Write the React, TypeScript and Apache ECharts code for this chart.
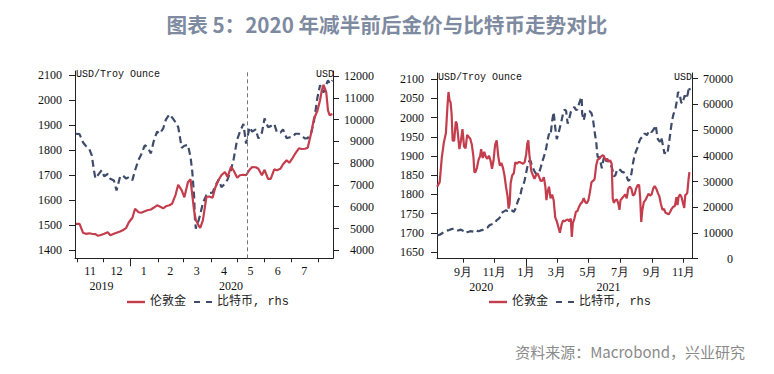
import React, { useEffect, useRef } from "react";
import * as echarts from "echarts";

// ---------- DATA ----------
// Left panel: day offsets from 2019-11-01
const leftBaseDate = "2019-11-01";
const goldDays1 = [-1,3,7,10,14,17,21,24,28,31,35,38,42,45,49,52,56,59,63,66,70,73,77,80,84,87,91,94,98,101,105,108,112,115,119,122,126,129,131,133,135,136,138,140,143,147,150,154,157,161,164,168,171,175,178,182,185,189,192,196,199,203,206,210,213,217,220,224,227,231,234,238,241,245,248,252,255,259,262,266,269,273,276,278,280,283,285,287,290];
const goldValues1 = [1506,1506,1470,1466,1468,1466,1465,1458,1462,1466,1472,1460,1466,1470,1475,1480,1490,1512,1530,1566,1552,1550,1556,1560,1563,1570,1580,1575,1568,1576,1580,1586,1622,1662,1640,1612,1672,1684,1620,1560,1520,1515,1500,1490,1520,1613,1615,1610,1650,1682,1700,1713,1693,1735,1718,1690,1700,1702,1700,1722,1733,1732,1726,1700,1722,1686,1686,1724,1720,1726,1744,1760,1750,1770,1788,1808,1805,1806,1810,1870,1925,1958,2000,2040,2062,2033,1960,1940,1945];
const btcDays1 = [-1,3,7,10,14,17,19,21,24,28,31,35,38,42,45,49,52,56,59,63,66,70,73,77,80,84,87,91,94,98,101,105,108,112,115,119,122,126,129,131,133,134,135,136,138,140,143,147,150,154,157,161,164,168,171,175,178,182,185,189,192,196,199,203,206,210,213,217,220,224,227,231,234,238,241,245,248,252,255,259,262,266,269,273,276,278,280,283,285,287,290];
const btcValues1 = [9350,9330,8950,8800,8660,8350,7745,7300,7460,7670,7400,7500,7280,7200,6750,7380,7440,7290,7360,7220,7670,8150,8400,8820,8740,8450,8980,9450,9350,9600,10000,10240,10100,9880,9660,8700,8800,8840,8280,7600,6500,5450,4990,5200,5350,5650,6170,6530,6620,6650,6950,7250,6900,7050,7250,7700,8200,9100,9430,9800,8900,9650,9450,9550,9130,9400,10050,9650,9700,9800,9420,9400,9550,9150,9180,9200,9350,9350,9250,9130,9150,9400,9900,11000,11580,11350,11250,11600,11800,11650,11800];
const halvingDate = "2020-05-12";

// Right panel: day offsets from 2020-09-01
const rightBaseDate = "2020-09-01";
const goldDays2 = [-50,-45,-41,-37,-33,-30,-28,-26,-24,-22,-20,-17,-14,-12,-10,-7,-4,-1,2,5,8,11,14,17,20,22,24,27,30,33,35,38,41,44,47,50,53,56,59,62,65,68,71,74,77,80,83,86,88,90,92,95,98,101,104,107,110,113,116,119,122,124,126,128,130,132,135,138,141,144,147,150,153,156,159,161,163,166,169,172,175,178,181,184,187,190,193,196,199,202,205,208,210,212,215,218,221,224,227,230,233,236,239,242,245,248,251,254,257,260,263,266,269,272,275,278,281,284,287,289,291,294,297,300,302,304,307,310,313,316,319,322,325,328,331,334,337,340,342,344,346,349,352,355,358,361,364,367,370,373,376,379,382,385,388,391,394,397,400,403,406,409,412,414,416,419,422,425,427,429,431,433,435,437];
const goldValues2 = [1820,1832,1895,1935,1960,2030,2067,2045,2040,2010,1940,1940,1990,1985,1960,1918,1940,1970,1925,1920,1955,1950,1945,1930,1900,1858,1858,1870,1890,1900,1918,1895,1911,1898,1893,1901,1889,1867,1889,1930,1941,1900,1875,1882,1870,1850,1820,1795,1763,1775,1830,1850,1855,1884,1880,1884,1884,1882,1880,1884,1905,1932,1941,1905,1880,1860,1850,1841,1850,1855,1845,1835,1836,1845,1820,1785,1805,1820,1790,1800,1785,1740,1730,1715,1700,1720,1732,1730,1733,1735,1730,1737,1689,1725,1737,1755,1757,1768,1776,1780,1790,1780,1777,1785,1806,1832,1835,1840,1875,1891,1893,1898,1902,1900,1889,1893,1885,1889,1880,1790,1778,1785,1787,1775,1760,1785,1790,1795,1800,1790,1815,1820,1815,1797,1800,1815,1824,1824,1790,1728,1757,1780,1785,1793,1802,1797,1800,1815,1822,1815,1804,1795,1775,1760,1762,1752,1750,1748,1755,1763,1768,1770,1793,1772,1793,1800,1792,1775,1765,1798,1800,1805,1835,1858];
const btcDays2 = [-50,-45,-41,-37,-33,-30,-28,-26,-24,-22,-20,-17,-14,-12,-10,-7,-4,-1,2,5,8,11,14,17,20,24,27,30,33,38,41,44,47,50,53,56,59,62,65,68,71,74,77,80,83,86,90,95,98,101,104,107,110,113,116,119,122,124,126,128,130,132,135,138,141,144,147,150,153,156,159,161,163,166,169,172,175,178,181,184,187,190,193,196,199,202,205,208,212,215,218,221,224,227,229,230,233,236,239,242,245,248,251,253,255,257,259,260,263,266,268,270,272,275,278,281,284,287,289,291,294,297,300,304,307,310,313,316,319,322,325,328,331,334,337,340,343,346,349,352,355,358,361,364,367,370,372,374,376,380,382,384,387,389,392,395,397,400,403,406,410,413,415,418,421,423,426,428,431,434,436,438];
const btcValues2 = [9100,9300,9800,10400,10800,11000,11040,11200,11400,11500,11600,11650,11500,11100,11000,11100,11300,11000,10100,10200,10350,10500,10700,10650,10500,11040,10800,10700,10900,11200,11500,11600,12000,12800,13200,13400,13600,14000,15000,15400,16000,17600,18200,18500,18800,18500,19000,18700,18200,19300,21200,23000,24000,27000,28300,30500,33500,35500,37000,38000,38200,37000,35300,34000,33000,33000,33500,35500,37700,39600,41500,43500,45800,48600,48000,53500,57000,51000,46500,48500,51000,53500,56300,58000,57500,52500,54500,57000,58400,59000,57800,58000,60300,62000,62900,56500,53800,56500,57200,57300,57300,56600,54000,51000,48000,45700,41000,39550,39550,37000,35200,37500,39400,37600,38900,37600,36950,35700,34200,32000,32400,34300,35000,34400,33700,33700,32500,31800,30300,30800,33000,37000,40000,41800,43300,45500,46800,47300,48600,48600,48000,49300,49900,49200,50000,51000,51900,49000,46500,45400,47300,46000,42800,40800,42100,41500,44100,48600,53200,56000,58300,61600,64800,64200,60900,60300,62200,63500,62200,64200,66800,65500];

// Axis ticks / labels
const leftGoldTicks = [1400, 1500, 1600, 1700, 1800, 1900, 2000, 2100];
const leftBtcTicks = [4000, 5000, 6000, 7000, 8000, 9000, 10000, 11000, 12000];
const rightGoldTicks = [1650, 1700, 1750, 1800, 1850, 1900, 1950, 2000, 2050, 2100];
const rightBtcTicks = [0, 10000, 20000, 30000, 40000, 50000, 60000, 70000];
const leftMonthTicks = ["2019-11-01","2019-12-01","2020-01-01","2020-02-01","2020-03-01","2020-04-01","2020-05-01","2020-06-01","2020-07-01","2020-08-01"];
const leftMonthLabels = ["2019-11-16","2019-12-16","2020-01-16","2020-02-15","2020-03-16","2020-04-16","2020-05-16","2020-06-16","2020-07-16"];
const leftYearTicks = ["2020-01-01"];
const leftYearLabels = ["2019-11-29","2020-04-24"];
const rightMonthTicks = ["2020-09-01","2020-11-01","2021-01-01","2021-03-01","2021-05-01","2021-07-01","2021-09-01","2021-11-01"];
const rightYearTicks = ["2021-01-01"];
const rightYearLabels = ["2020-10-06","2021-06-09"];

const seriesNames = ["伦敦金", "比特币, rhs"];
const titleText = "图表 5：2020 年减半前后金价与比特币走势对比";
const sourceText = "资料来源：Macrobond，兴业研究";

// ---------- HELPERS ----------
const DAY = 86400000;
const ts = (s: string) => {
  const [y, m, d] = s.split("-").map(Number);
  return Date.UTC(y, m - 1, d);
};
const zipDays = (base: string, days: number[], vals: number[]) =>
  days.map((d, i) => [ts(base) + d * DAY, vals[i]]);

const RED = "#C43D4D";
const NAVY = "#3E4B6A";
const AX = "#222";
const SERIF = "'Liberation Serif', 'Times New Roman', serif";
const MONO = "'Liberation Mono', 'DejaVu Sans Mono', 'Noto Sans CJK SC', monospace";
const CJK = "'Noto Sans CJK SC', 'Noto Sans', sans-serif";
const DASH_ICON = "path://M0,0h6v2h-6z M12,0h6v2h-6z";

function monthAxis(gridIndex: number, min: number, max: number, ticks: string[], labels: string[], fmt: (v: number) => string) {
  return {
    type: "value",
    gridIndex,
    position: "bottom",
    min,
    max,
    axisLine: { show: true, onZero: false, lineStyle: { color: AX, width: 1 } },
    axisTick: { show: true, length: 4, customValues: ticks.map(ts), lineStyle: { color: AX } },
    axisLabel: {
      show: true,
      customValues: labels.map(ts),
      formatter: (v: number) => fmt(v),
      fontFamily: SERIF,
      fontSize: 12,
      color: "#111",
      margin: 7,
    },
    splitLine: { show: false },
  };
}

function yearAxis(gridIndex: number, min: number, max: number, ticks: string[], labels: string[]) {
  return {
    type: "value",
    gridIndex,
    position: "bottom",
    min,
    max,
    axisLine: { show: false, onZero: false },
    axisTick: { show: true, length: 8, customValues: ticks.map(ts), lineStyle: { color: AX } },
    axisLabel: {
      show: true,
      customValues: labels.map(ts),
      formatter: (v: number) => String(new Date(v).getUTCFullYear()),
      fontFamily: SERIF,
      fontSize: 12,
      color: "#111",
      margin: 22,
    },
    splitLine: { show: false },
  };
}

function valueAxis(gridIndex: number, position: string, min: number, max: number, ticks: number[]) {
  const right = position === "right";
  return {
    type: "value",
    gridIndex,
    position,
    min,
    max,
    axisLine: { show: true, onZero: false, lineStyle: { color: AX, width: 1 } },
    axisTick: { show: true, length: 6, customValues: ticks, lineStyle: { color: AX } },
    axisLabel: {
      show: true,
      customValues: ticks,
      formatter: (v: number) => String(v),
      fontFamily: SERIF,
      fontSize: 12,
      color: "#111",
      margin: right ? 41 : 13,
      align: "right",
    },
    splitLine: { show: false },
  };
}

export default function App() {
  const ref = useRef<HTMLDivElement>(null);

  useEffect(() => {
    if (!ref.current) return;
    const chart = echarts.init(ref.current, null, { renderer: "svg" });

    const lMin = ts(leftBaseDate) - 2.16 * DAY;
    const lMax = ts(leftBaseDate) + 290.7 * DAY;
    const rMin = ts(rightBaseDate) - 50.2 * DAY;
    const rMax = ts(rightBaseDate) + 442 * DAY;

    const legendBase = {
      itemWidth: 18,
      itemHeight: 2.4,
      itemGap: 8,
      top: 296,
      padding: 0,
      data: [
        { name: seriesNames[0], icon: "rect" },
        { name: seriesNames[1], icon: DASH_ICON },
      ],
      textStyle: { fontFamily: MONO, fontSize: 12, color: "#222" },
    };

    const option: any = {
      animation: false,
      backgroundColor: "#fff",
      title: {
        text: titleText,
        left: "center",
        top: 9,
        textStyle: { fontFamily: CJK, fontSize: 20.6, fontWeight: "bold", color: "#7E8AA0" },
      },
      grid: [
        { left: 75, top: 71, width: 258, height: 187.3 },
        { left: 437, top: 73, width: 255, height: 185.7 },
      ],
      xAxis: [
        monthAxis(0, lMin, lMax, leftMonthTicks, leftMonthLabels, (v) => String(new Date(v).getUTCMonth() + 1)),
        yearAxis(0, lMin, lMax, leftYearTicks, leftYearLabels),
        monthAxis(1, rMin, rMax, rightMonthTicks, rightMonthTicks, (v) => `${new Date(v).getUTCMonth() + 1}月`),
        yearAxis(1, rMin, rMax, rightYearTicks, rightYearLabels),
      ],
      yAxis: [
        valueAxis(0, "left", 1368, 2117, leftGoldTicks),
        valueAxis(0, "right", 3633, 12230, leftBtcTicks),
        valueAxis(1, "left", 1632.5, 2116.4, rightGoldTicks),
        valueAxis(1, "right", 0, 72217, rightBtcTicks),
      ],
      legend: [
        { ...legendBase, left: 127 },
        { ...legendBase, left: 489 },
      ],
      series: [
        {
          name: seriesNames[0],
          type: "line",
          xAxisIndex: 0,
          yAxisIndex: 0,
          data: zipDays(leftBaseDate, goldDays1, goldValues1),
          showSymbol: false,
          symbol: "none",
          color: RED,
          lineStyle: { color: RED, width: 2.2 },
          z: 3,
        },
        {
          name: seriesNames[1],
          type: "line",
          xAxisIndex: 0,
          yAxisIndex: 1,
          data: zipDays(leftBaseDate, btcDays1, btcValues1),
          showSymbol: false,
          symbol: "none",
          color: NAVY,
          lineStyle: { color: NAVY, width: 2.2, type: [7, 4] },
          z: 2,
          markLine: {
            silent: true,
            symbol: "none",
            label: { show: false },
            lineStyle: { color: "#777", width: 1, type: [4, 3] },
            data: [{ xAxis: ts(halvingDate) }],
          },
        },
        {
          name: seriesNames[0],
          type: "line",
          xAxisIndex: 2,
          yAxisIndex: 2,
          data: zipDays(rightBaseDate, goldDays2, goldValues2),
          showSymbol: false,
          symbol: "none",
          color: RED,
          lineStyle: { color: RED, width: 2.2 },
          z: 3,
        },
        {
          name: seriesNames[1],
          type: "line",
          xAxisIndex: 2,
          yAxisIndex: 3,
          data: zipDays(rightBaseDate, btcDays2, btcValues2),
          showSymbol: false,
          symbol: "none",
          color: NAVY,
          lineStyle: { color: NAVY, width: 2.2, type: [7, 4] },
          z: 2,
        },
      ],
      graphic: [
        { type: "text", left: 76, top: 69, style: { text: "USD/Troy Ounce", font: `10px ${MONO}`, fill: "#111" } },
        { type: "text", left: 316, top: 69, style: { text: "USD", font: `10px ${MONO}`, fill: "#111" } },
        { type: "text", left: 438, top: 72, style: { text: "USD/Troy Ounce", font: `10px ${MONO}`, fill: "#111" } },
        { type: "text", left: 674, top: 72, style: { text: "USD", font: `10px ${MONO}`, fill: "#111" } },
        { type: "text", right: 29, top: 344, style: { text: sourceText, font: `15px ${CJK}`, fill: "#8A8A8A" } },
      ],
    };

    chart.setOption(option);
    return () => chart.dispose();
  }, []);

  return <div ref={ref} style={{ position: "absolute", left: 0, top: 0, width: 774, height: 374 }} />;
}
